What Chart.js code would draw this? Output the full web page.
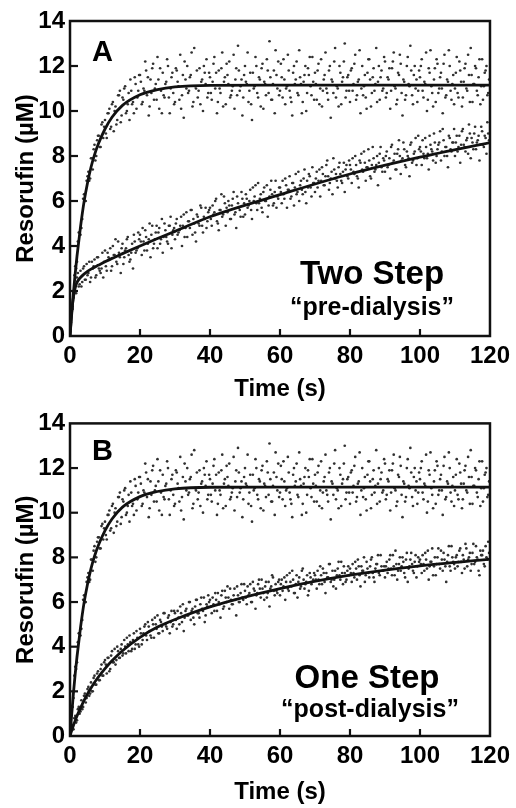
<!DOCTYPE html>
<html>
<head>
<meta charset="utf-8">
<script src="https://cdn.jsdelivr.net/npm/chart.js@4.4.1/dist/chart.umd.min.js"></script>
<style>
  html, body { margin: 0; padding: 0; background: #fff; }
  #wrap { position: relative; width: 516px; height: 808px; }
  canvas { position: absolute; left: 0; }
</style>
</head>
<body>
<div id="wrap">
  <canvas id="panelA" width="516" height="404" style="top:0px"></canvas>
  <canvas id="panelB" width="516" height="404" style="top:404px"></canvas>
</div>
<script>
// ---------- DATA (read / estimated from the reference picture) ----------
// sampling times of the measured points (s), first set
const times = [
  0,0.5,1,1.5,2,2.5,3,3.5,4,4.5,5,5.5,6,6.5,7,7.5,8,8.5,9,9.5,
  10,10.5,11,11.5,12,12.5,13,13.5,14,14.5,15,15.5,16,16.5,17,17.5,18,18.5,19,19.5,
  20,20.5,21,21.5,22,22.5,23,23.5,24,24.5,25,25.5,26,26.5,27,27.5,28,28.5,29,29.5,
  30,30.5,31,31.5,32,32.5,33,33.5,34,34.5,35,35.5,36,36.5,37,37.5,38,38.5,39,39.5,
  40,40.5,41,41.5,42,42.5,43,43.5,44,44.5,45,45.5,46,46.5,47,47.5,48,48.5,49,49.5,
  50,50.5,51,51.5,52,52.5,53,53.5,54,54.5,55,55.5,56,56.5,57,57.5,58,58.5,59,59.5,
  60,60.5,61,61.5,62,62.5,63,63.5,64,64.5,65,65.5,66,66.5,67,67.5,68,68.5,69,69.5,
  70,70.5,71,71.5,72,72.5,73,73.5,74,74.5,75,75.5,76,76.5,77,77.5,78,78.5,79,79.5,
  80,80.5,81,81.5,82,82.5,83,83.5,84,84.5,85,85.5,86,86.5,87,87.5,88,88.5,89,89.5,
  90,90.5,91,91.5,92,92.5,93,93.5,94,94.5,95,95.5,96,96.5,97,97.5,98,98.5,99,99.5,
  100,100.5,101,101.5,102,102.5,103,103.5,104,104.5,105,105.5,106,106.5,107,107.5,108,108.5,109,109.5,
  110,110.5,111,111.5,112,112.5,113,113.5,114,114.5,115,115.5,116,116.5,117,117.5,118,118.5,119,119.5,
  120
];
// sampling times of the measured points (s), second set
const times2 = [
  0.25,0.75,1.25,1.75,2.25,2.75,3.25,3.75,4.25,4.75,5.25,5.75,6.25,6.75,7.25,7.75,8.25,8.75,9.25,9.75,
  10.25,10.75,11.25,11.75,12.25,12.75,13.25,13.75,14.25,14.75,15.25,15.75,16.25,16.75,17.25,17.75,18.25,18.75,19.25,19.75,
  20.25,20.75,21.25,21.75,22.25,22.75,23.25,23.75,24.25,24.75,25.25,25.75,26.25,26.75,27.25,27.75,28.25,28.75,29.25,29.75,
  30.25,30.75,31.25,31.75,32.25,32.75,33.25,33.75,34.25,34.75,35.25,35.75,36.25,36.75,37.25,37.75,38.25,38.75,39.25,39.75,
  40.25,40.75,41.25,41.75,42.25,42.75,43.25,43.75,44.25,44.75,45.25,45.75,46.25,46.75,47.25,47.75,48.25,48.75,49.25,49.75,
  50.25,50.75,51.25,51.75,52.25,52.75,53.25,53.75,54.25,54.75,55.25,55.75,56.25,56.75,57.25,57.75,58.25,58.75,59.25,59.75,
  60.25,60.75,61.25,61.75,62.25,62.75,63.25,63.75,64.25,64.75,65.25,65.75,66.25,66.75,67.25,67.75,68.25,68.75,69.25,69.75,
  70.25,70.75,71.25,71.75,72.25,72.75,73.25,73.75,74.25,74.75,75.25,75.75,76.25,76.75,77.25,77.75,78.25,78.75,79.25,79.75,
  80.25,80.75,81.25,81.75,82.25,82.75,83.25,83.75,84.25,84.75,85.25,85.75,86.25,86.75,87.25,87.75,88.25,88.75,89.25,89.75,
  90.25,90.75,91.25,91.75,92.25,92.75,93.25,93.75,94.25,94.75,95.25,95.75,96.25,96.75,97.25,97.75,98.25,98.75,99.25,99.75,
  100.25,100.75,101.25,101.75,102.25,102.75,103.25,103.75,104.25,104.75,105.25,105.75,106.25,106.75,107.25,107.75,108.25,108.75,109.25,109.75,
  110.25,110.75,111.25,111.75,112.25,112.75,113.25,113.75,114.25,114.75,115.25,115.75,116.25,116.75,117.25,117.75,118.25,118.75,119.25,119.75
];

// fast reaction points (same cloud appears in panels A and B), µM
const fastPoints = [
  0.3,1.3,1.7,3.1,3.3,4.6,4.5,5.2,6.3,6.0,7.1,6.9,7.9,7.4,8.5,8.0,8.9,8.4,9.4,8.8,
  9.6,8.8,9.9,9.2,10.3,9.1,10.2,9.6,10.7,9.5,10.6,11.0,9.9,10.3,9.6,10.9,10.4,11.5,10.1,10.9,
  11.6,10.3,11.0,12.2,10.7,9.8,11.4,11.9,10.5,11.2,12.4,10.1,10.9,11.7,10.6,11.3,12.0,9.9,11.5,10.8,
  10.4,11.8,11.1,12.5,10.7,9.7,11.4,12.0,10.9,11.6,10.2,12.8,11.0,10.6,11.9,11.3,10.0,11.7,12.3,10.8,
  11.5,10.5,12.1,11.0,9.9,11.8,10.8,12.6,11.3,10.3,11.6,12.2,10.7,11.1,10.1,11.9,12.9,10.9,11.4,10.6,
  12.0,11.2,10.4,11.7,9.6,11.0,12.4,10.8,11.5,10.2,12.1,11.3,10.7,11.8,13.1,10.5,11.2,9.9,11.6,12.2,
  10.9,11.5,12.3,10.3,11.1,11.8,10.6,9.8,12.0,11.4,10.8,12.7,11.2,10.4,11.6,10.0,11.9,12.4,10.7,11.3,
  11.7,10.5,12.1,11.0,10.2,11.4,12.6,10.8,11.8,9.7,11.3,12.2,10.6,11.0,12.0,10.3,11.5,13.0,10.9,11.6,
  10.4,11.9,11.2,12.5,10.7,11.4,9.9,12.0,11.1,10.6,11.7,12.3,10.2,11.5,10.9,12.8,11.3,10.5,11.8,11.0,
  12.2,10.8,11.4,10.1,11.9,12.6,11.0,10.5,11.6,12.1,9.8,11.3,10.7,12.4,11.1,11.8,10.3,12.0,11.4,10.9,
  11.5,12.3,10.6,11.2,10.0,11.9,12.7,10.8,11.4,10.4,12.1,11.0,11.7,9.9,12.5,10.7,11.3,12.0,10.5,11.6,
  11.0,12.4,10.6,11.8,10.2,11.3,12.1,10.9,11.6,12.8,10.4,11.2,11.9,10.7,12.3,11.1,10.5,11.7,12.0,10.8,
  11.4
];
const fastPoints2 = [
  0.6,1.3,2.7,3.0,4.2,4.6,4.8,6.1,6.0,6.9,7.3,7.0,7.9,8.3,7.8,8.7,8.9,8.4,9.5,9.3,
  9.0,9.9,10.1,9.3,10.4,10.0,9.4,10.7,10.9,9.8,10.5,11.1,10.0,10.8,11.4,10.3,9.9,11.2,10.6,11.6,
  11.3,10.4,10.9,11.8,11.5,10.2,10.8,12.1,11.0,10.5,11.4,11.9,9.9,10.7,11.2,12.3,10.6,11.0,11.7,10.3,
  11.9,11.3,10.5,10.1,11.6,12.2,11.0,10.8,11.5,12.6,10.4,11.1,11.8,10.9,10.3,11.4,12.0,11.2,10.6,11.7,
  10.8,11.3,12.4,11.7,10.4,11.0,11.9,10.2,11.5,12.1,11.2,10.6,10.9,12.5,11.4,10.7,11.8,11.1,9.8,11.6,
  11.3,12.6,10.9,10.3,11.7,11.1,12.0,10.6,11.4,11.9,10.1,11.2,12.3,10.8,11.5,10.5,11.8,12.7,11.0,10.7,
  12.1,10.6,11.4,11.0,12.5,10.9,10.4,11.7,11.2,12.2,10.7,11.5,9.9,11.3,12.0,10.8,11.6,11.1,12.4,10.5,
  11.2,11.8,10.3,12.3,10.9,11.6,11.0,10.5,12.0,11.4,10.8,12.8,11.1,10.2,11.7,11.3,12.2,10.6,11.5,10.9,
  11.8,10.9,12.1,10.5,11.3,12.7,11.0,10.7,11.6,10.1,12.3,11.4,10.8,11.9,11.2,10.4,12.0,11.5,10.9,12.4,
  10.6,11.5,11.9,10.9,12.2,11.1,10.3,11.7,12.5,10.8,11.4,10.5,12.0,11.2,12.9,10.7,11.6,11.0,10.4,11.8,
  12.0,10.9,11.3,12.6,10.5,11.7,11.1,10.2,11.9,12.3,10.8,11.5,11.0,12.1,10.6,11.4,12.7,10.9,11.2,10.3,
  11.7,10.8,12.2,11.3,10.6,11.9,11.0,12.5,10.4,11.6,11.2,12.0,10.9,11.5,10.3,12.3,11.1,11.8,10.7,11.4
];

// panel A slow ("Two Step", pre-dialysis) points, µM
const slowPointsA = [
  0.2,1.3,1.9,2.0,2.6,2.2,2.9,2.4,3.1,2.5,2.7,3.3,2.6,3.0,3.4,2.7,3.5,2.9,3.0,2.6,
  3.8,2.9,3.5,3.9,3.1,3.6,4.3,3.2,3.7,2.8,4.1,3.5,3.9,4.4,3.3,3.7,3.0,4.2,3.8,4.6,
  4.5,3.6,4.2,4.7,3.8,4.3,3.5,4.9,4.1,4.6,3.9,4.8,4.3,3.7,5.0,4.4,4.1,4.9,3.9,4.7,
  4.3,5.2,4.6,4.9,4.0,5.4,4.8,4.4,5.1,5.6,4.5,5.0,4.2,5.3,4.9,5.7,4.6,5.2,4.8,5.5,
  5.7,4.9,5.4,6.0,5.1,4.7,5.6,5.3,6.2,4.9,5.5,5.8,5.2,6.1,5.4,4.8,5.9,5.6,6.4,5.3,
  5.4,6.1,5.8,6.5,5.2,6.0,6.7,5.6,5.9,6.3,5.5,6.6,6.0,5.3,6.2,6.9,5.8,6.4,5.7,6.1,
  6.6,5.9,6.3,7.0,5.7,6.5,6.1,6.8,5.8,7.2,6.4,6.0,6.9,6.3,7.4,5.9,6.6,7.1,6.2,6.8,
  6.4,7.3,6.9,6.2,7.5,6.7,7.1,7.8,6.5,7.0,6.3,7.4,7.2,6.6,7.7,6.9,7.3,6.4,7.6,7.0,
  7.6,6.8,7.3,8.0,7.1,6.6,7.7,7.4,8.2,6.9,7.5,7.8,7.0,8.4,7.3,7.6,6.7,8.1,7.5,7.9,
  7.3,8.2,7.6,7.0,8.5,7.8,7.4,8.1,8.7,7.2,7.9,8.3,7.5,8.0,7.1,8.6,7.8,8.2,7.6,8.9,
  8.4,7.6,8.1,8.8,7.9,7.4,8.5,8.2,9.0,7.7,8.3,8.6,7.8,9.2,8.0,8.4,7.5,8.8,8.2,8.6,
  8.0,8.9,8.4,7.7,9.1,8.5,8.2,8.8,9.4,7.9,8.6,9.0,8.3,8.7,7.8,9.3,8.5,8.9,8.1,9.0,
  8.6
];
const slowPointsA2 = [
  0.9,1.2,2.3,1.9,2.8,2.3,2.2,3.0,2.5,3.2,2.8,2.4,3.3,3.1,2.6,3.5,3.0,2.8,3.7,3.3,
  3.1,3.7,3.4,2.9,4.0,3.6,3.3,4.2,3.5,3.9,3.2,3.8,4.3,3.6,3.4,4.1,4.5,3.7,3.9,4.3,
  4.2,4.8,3.8,4.4,4.1,5.0,4.5,3.9,4.3,4.9,4.6,4.1,5.2,4.4,4.7,4.2,4.9,5.3,4.5,4.8,
  5.0,4.5,4.7,5.3,4.9,4.4,5.5,5.1,4.8,5.6,5.2,4.6,5.4,5.0,5.8,4.9,5.3,5.7,5.1,5.6,
  5.2,5.8,5.5,6.1,5.0,5.6,6.3,5.4,5.9,5.7,6.0,5.2,5.8,6.4,5.5,6.2,5.7,5.3,6.1,5.9,
  6.3,5.7,6.0,5.6,6.6,6.2,5.9,6.8,6.1,5.7,6.4,6.0,6.7,5.8,6.5,6.3,5.9,6.9,6.2,6.6,
  6.4,6.9,6.1,6.7,6.5,7.1,6.2,6.8,6.6,6.3,7.3,6.7,6.5,7.0,6.4,6.9,7.2,6.6,7.5,6.8,
  7.0,6.6,7.4,6.9,7.2,6.7,7.6,7.1,6.8,7.3,7.9,7.0,6.9,7.5,7.2,6.8,7.7,7.4,7.1,7.8,
  7.4,7.9,7.2,7.6,7.0,7.8,8.1,7.3,7.7,7.5,8.3,7.1,7.6,7.9,7.4,8.0,7.7,8.4,7.3,7.8,
  8.0,7.5,7.9,8.4,7.7,8.1,7.4,8.3,8.0,7.8,8.6,7.6,8.2,7.9,8.5,7.7,8.1,8.8,7.9,8.3,
  8.2,8.7,7.9,8.4,8.1,8.9,8.3,7.8,8.6,8.0,8.5,9.1,8.2,8.7,8.4,8.0,8.9,8.3,8.6,9.2,
  8.6,8.2,8.9,8.5,9.2,8.4,8.7,8.1,9.0,8.8,8.3,9.3,8.6,8.9,8.5,9.1,8.4,8.8,9.5,8.7
];

// panel B slow ("One Step", post-dialysis) points, µM
const slowPointsB = [
  0.1,0.4,0.3,0.9,0.7,1.3,1.1,1.2,1.8,1.5,2.1,1.8,2.4,2.0,2.7,2.3,2.9,2.5,3.2,2.7,
  3.4,2.8,3.5,3.0,3.8,3.3,3.2,4.0,3.5,3.9,3.6,4.3,3.7,4.1,4.5,3.8,4.3,3.9,4.7,4.1,
  4.8,4.1,4.6,5.0,4.3,4.9,4.5,5.2,4.4,5.0,5.4,4.6,5.1,4.7,5.5,4.9,5.3,4.6,5.6,5.0,
  5.5,4.8,5.3,5.8,5.1,4.7,5.6,5.4,6.0,5.2,5.7,5.0,6.1,5.5,5.3,6.2,5.6,5.1,5.9,6.3,
  6.1,5.5,5.9,6.4,5.6,6.0,5.3,6.5,5.8,6.2,6.7,5.7,6.1,5.9,6.6,5.4,6.3,6.0,6.8,6.1,
  6.5,5.9,6.3,6.8,6.0,6.6,5.7,6.4,7.0,6.2,6.6,6.1,6.9,6.4,5.8,6.7,7.1,6.3,6.5,6.9,
  6.3,7.0,6.7,6.1,7.2,6.5,6.9,7.4,6.4,6.8,6.2,7.1,6.7,7.5,6.6,6.9,6.3,7.3,6.8,7.0,
  7.2,6.6,7.0,7.6,6.8,7.3,6.4,7.1,7.7,6.9,7.4,7.0,6.6,7.5,7.2,7.8,6.8,7.3,7.0,7.6,
  7.5,6.9,7.3,7.8,7.0,7.6,6.7,7.4,8.0,7.2,7.5,7.1,7.9,7.3,6.9,7.7,8.1,7.2,7.6,7.4,
  7.1,7.8,7.5,8.1,7.2,7.6,8.3,7.0,7.7,7.4,8.0,7.3,7.9,6.9,7.6,8.2,7.4,7.8,7.1,8.0,
  7.9,7.3,7.7,8.2,7.5,7.0,7.8,8.4,7.6,7.2,8.0,7.7,8.3,7.4,7.9,6.9,8.1,7.6,8.5,7.8,
  7.5,8.1,7.8,8.4,7.3,7.9,8.6,7.6,8.0,7.4,8.2,7.7,8.5,7.9,7.2,8.1,8.3,7.6,8.0,8.7,
  7.9
];
const slowPointsB2 = [
  0.2,0.5,0.8,0.6,1.2,1.0,1.6,1.3,1.9,1.7,2.2,1.9,2.0,2.6,2.3,2.8,2.5,3.0,2.7,3.3,
  3.2,3.5,2.9,3.6,3.3,3.9,3.4,3.8,3.5,4.1,3.7,4.0,4.4,3.8,4.2,3.9,4.6,4.1,4.4,4.0,
  4.6,4.3,4.9,4.5,5.1,4.7,4.4,5.0,5.3,4.8,4.6,5.2,4.9,5.5,5.0,4.8,5.4,5.1,4.9,5.6,
  5.2,5.6,5.0,5.5,5.9,5.3,5.7,5.4,6.0,5.6,5.3,5.8,6.1,5.5,5.9,5.7,6.2,5.4,5.8,6.0,
  5.8,6.2,5.6,6.1,6.4,5.9,6.3,5.7,6.5,6.0,6.2,6.6,5.9,6.3,6.1,6.7,6.0,6.4,6.2,6.8,
  6.2,6.7,6.4,6.0,6.9,6.5,6.3,6.8,6.6,7.0,6.4,6.7,6.2,6.9,6.6,7.2,6.5,6.8,6.4,7.0,
  6.8,6.5,7.1,6.9,6.6,7.3,6.7,7.0,6.4,7.2,6.9,6.6,7.4,7.0,6.8,7.2,6.5,7.1,6.9,7.3,
  7.0,7.4,6.8,7.2,7.5,6.9,7.3,7.1,7.7,7.0,6.7,7.4,7.2,7.8,7.0,7.3,7.6,6.9,7.4,7.2,
  7.3,7.7,7.1,7.5,7.9,7.2,7.6,7.4,6.9,7.8,7.3,7.6,8.0,7.1,7.5,7.7,7.3,8.1,7.4,7.6,
  7.6,7.3,7.9,7.5,8.1,7.2,7.7,7.4,8.0,7.6,7.8,7.1,8.2,7.5,7.9,7.7,7.3,8.1,7.6,7.8,
  7.7,8.1,7.4,7.9,8.3,7.6,7.8,7.2,8.0,7.7,8.4,7.5,7.9,8.2,7.6,7.8,8.5,7.4,8.0,7.7,
  8.0,7.6,8.3,7.8,8.1,7.5,8.4,7.9,8.2,7.7,8.6,7.8,8.0,7.4,8.3,8.1,7.7,8.5,7.9,8.2
];

// fitted curves, read at these times (s)
const fitTimes  = [0,0.5,1,1.5,2,3,4,5,6,7,8,10,12,15,20,25,30,40,60,80,100,120];
const fastFit   = [0,1.0,1.95,2.8,3.55,4.85,5.95,6.8,7.5,8.05,8.5,9.2,9.72,10.25,10.72,10.95,11.07,11.14,11.15,11.15,11.15,11.15];
const slowFitA  = [0,1.1,1.75,2.15,2.38,2.6,2.75,2.87,2.97,3.06,3.14,3.3,3.45,3.66,4.0,4.33,4.65,5.3,6.28,7.2,7.95,8.6];
const slowFitB  = [0,0.25,0.48,0.7,0.9,1.25,1.58,1.88,2.15,2.4,2.62,3.02,3.37,3.82,4.42,4.88,5.22,5.78,6.6,7.2,7.62,7.92];

// axes
const xTickStep = 20, xMin = 0, xMax = 120;
const yTickStep = 2,  yMin = 0, yMax = 14;
const xTitle = 'Time (s)';
const yTitle = 'Resorufin (µM)';

// panel texts
const panelLetters = ['A', 'B'];
const panelTitles  = ['Two Step', 'One Step'];
const panelSubs    = ['\u201Cpre-dialysis\u201D', '\u201Cpost-dialysis\u201D'];

// ---------- helpers ----------
function pairs(xs, ys) {
  const n = Math.min(xs.length, ys.length);
  const out = [];
  for (let i = 0; i < n; i++) out.push({ x: xs[i], y: ys[i] });
  return out;
}

const FONT = '"Liberation Sans", Arial, Helvetica, sans-serif';
Chart.defaults.font.family = FONT;
Chart.defaults.color = '#000';

const framePlugin = {
  id: 'frame',
  afterDatasetsDraw(chart, args, o) {
    const { ctx, chartArea: a, scales: { x, y } } = chart;
    ctx.save();
    ctx.strokeStyle = '#111';
    ctx.lineWidth = 2.5;
    ctx.strokeRect(a.left, a.top, a.right - a.left, a.bottom - a.top);
    ctx.lineWidth = 2.2;
    x.ticks.forEach(t => {
      const px = x.getPixelForValue(t.value);
      if (px > a.left + 2 && px < a.right - 2) {
        ctx.beginPath(); ctx.moveTo(px, a.bottom); ctx.lineTo(px, a.bottom - 7); ctx.stroke();
      }
    });
    y.ticks.forEach(t => {
      const py = y.getPixelForValue(t.value);
      if (py > a.top + 2 && py < a.bottom - 2) {
        ctx.beginPath(); ctx.moveTo(a.left, py); ctx.lineTo(a.left + 8, py); ctx.stroke();
      }
    });
    ctx.fillStyle = '#000';
    ctx.textBaseline = 'alphabetic';
    ctx.textAlign = 'left';
    ctx.font = 'bold 29px ' + FONT;
    ctx.fillText(o.letter, a.left + 22, a.top + o.letterDy);
    ctx.textAlign = 'center';
    ctx.font = 'bold 33px ' + FONT;
    ctx.fillText(o.title, o.titleX, a.bottom - o.titleDy);
    ctx.font = 'bold 25px ' + FONT;
    ctx.fillText(o.sub, o.subX, a.bottom - o.subDy);
    ctx.restore();
  }
};

function pointSet(xs, ys) {
  return { data: pairs(xs, ys), showLine: false, pointRadius: 1.35, pointBorderWidth: 0,
           backgroundColor: '#303030', borderColor: '#303030', order: 1 };
}
function fitSet(ys) {
  return { data: pairs(fitTimes, ys), showLine: true, borderColor: '#111', borderWidth: 2.8,
           pointRadius: 0, cubicInterpolationMode: 'monotone', fill: false, order: 0 };
}

function makePanel(id, slowPts, slowPts2, slowFit, padTop, xAxisH, xTitlePad, texts) {
  const tickFont = { size: 24, weight: 'bold', family: FONT };
  const titleFont = { size: 24, weight: 'bold', family: FONT, lineHeight: 1 };
  new Chart(document.getElementById(id), {
    type: 'scatter',
    data: {
      datasets: [
        fitSet(fastFit),
        fitSet(slowFit),
        pointSet(times, fastPoints),
        pointSet(times2, fastPoints2),
        pointSet(times, slowPts),
        pointSet(times2, slowPts2)
      ]
    },
    options: {
      responsive: false,
      animation: false,
      devicePixelRatio: 1,
      layout: { padding: { top: padTop, right: 26, left: 0, bottom: 0 } },
      plugins: {
        legend: { display: false },
        tooltip: { enabled: false },
        frame: texts
      },
      scales: {
        x: {
          type: 'linear', min: xMin, max: xMax,
          ticks: { stepSize: xTickStep, font: tickFont, color: '#000', padding: 6, maxRotation: 0 },
          grid: { display: false, drawTicks: false },
          border: { display: false },
          title: { display: true, text: xTitle, font: titleFont, color: '#000', padding: { top: 0, bottom: xTitlePad } },
          afterFit(s) { s.height = xAxisH; }
        },
        y: {
          type: 'linear', min: yMin, max: yMax,
          ticks: { stepSize: yTickStep, font: tickFont, color: '#000', padding: 5 },
          grid: { display: false, drawTicks: false },
          border: { display: false },
          title: { display: true, text: yTitle, font: titleFont, color: '#000', padding: { top: 14, bottom: 0 } },
          afterFit(s) { s.width = 70; }
        }
      }
    },
    plugins: [framePlugin]
  });
}

makePanel('panelA', slowPointsA, slowPointsA2, slowFitA, 21, 68, 3, {
  letter: panelLetters[0], letterDy: 40,
  title: panelTitles[0], titleX: 372, titleDy: 52,
  sub: panelSubs[0], subX: 372, subDy: 21
});
makePanel('panelB', slowPointsB, slowPointsB2, slowFitB, 19, 72, 4, {
  letter: panelLetters[1], letterDy: 37,
  title: panelTitles[1], titleX: 367, titleDy: 48,
  sub: panelSubs[1], subX: 370, subDy: 19
});
</script>
</body>
</html>
